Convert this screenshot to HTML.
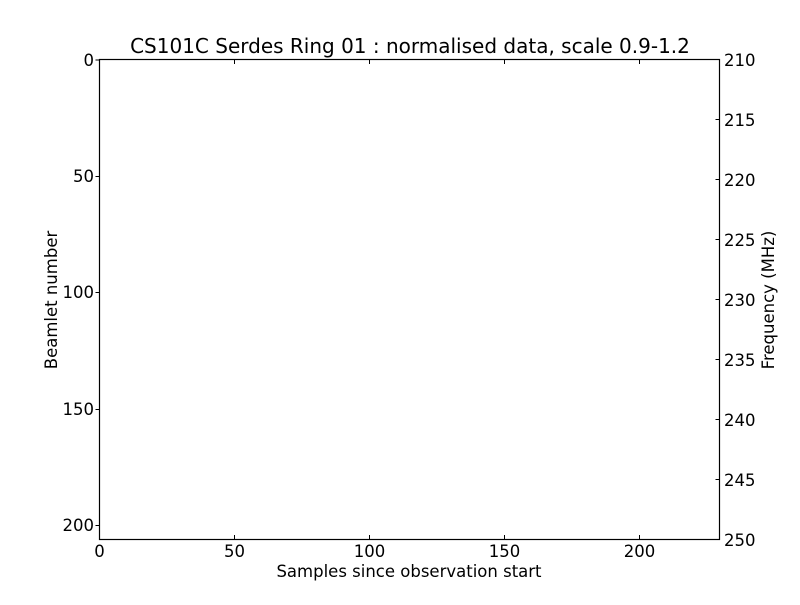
<!DOCTYPE html><html><head><style>body{margin:0;background:#fff}</style></head><body>
<svg width="800" height="600" xmlns="http://www.w3.org/2000/svg" font-family="DejaVu Sans, sans-serif" font-size="16.5" fill="#000">
<rect x="99.5" y="59.5" width="620" height="480" fill="none" stroke="#000" stroke-width="1.2"/>
<g stroke="#000" stroke-width="1">
<line x1="99.5" y1="60" x2="95.5" y2="60"/><line x1="99.5" y1="176.5" x2="95.5" y2="176.5"/><line x1="99.5" y1="292.5" x2="95.5" y2="292.5"/><line x1="99.5" y1="409.5" x2="95.5" y2="409.5"/><line x1="99.5" y1="525.5" x2="95.5" y2="525.5"/>
<line x1="234.5" y1="539" x2="234.5" y2="535"/><line x1="369.5" y1="539" x2="369.5" y2="535"/><line x1="504.5" y1="539" x2="504.5" y2="535"/><line x1="639.5" y1="539" x2="639.5" y2="535"/>
<line x1="234.5" y1="60" x2="234.5" y2="64"/><line x1="369.5" y1="60" x2="369.5" y2="64"/><line x1="504.5" y1="60" x2="504.5" y2="64"/><line x1="639.5" y1="60" x2="639.5" y2="64"/>
<line x1="719.5" y1="119.5" x2="715.5" y2="119.5"/><line x1="719.5" y1="179.5" x2="715.5" y2="179.5"/><line x1="719.5" y1="239.5" x2="715.5" y2="239.5"/><line x1="719.5" y1="299.5" x2="715.5" y2="299.5"/><line x1="719.5" y1="359.5" x2="715.5" y2="359.5"/><line x1="719.5" y1="419.5" x2="715.5" y2="419.5"/><line x1="719.5" y1="479.5" x2="715.5" y2="479.5"/>
</g>
<g text-anchor="end">
<text x="94" y="66">0</text><text x="94" y="182">50</text><text x="94" y="298">100</text><text x="94" y="415">150</text><text x="94" y="531">200</text>
</g>
<g text-anchor="middle">
<text x="99.5" y="557">0</text><text x="234.5" y="557">50</text><text x="369.5" y="557">100</text><text x="504.5" y="557">150</text><text x="639.5" y="557">200</text>
<text x="409" y="577">Samples since observation start</text>
<text x="410" y="53" font-size="20">CS101C Serdes Ring 01 : normalised data, scale 0.9-1.2</text>
</g>
<g>
<text x="724" y="66">210</text><text x="724" y="126">215</text><text x="724" y="186">220</text><text x="724" y="246">225</text><text x="724" y="306">230</text><text x="724" y="366">235</text><text x="724" y="426">240</text><text x="724" y="486">245</text><text x="724" y="546">250</text>
</g>
<text transform="translate(57,300) rotate(-90)" text-anchor="middle">Beamlet number</text>
<text transform="translate(774,300) rotate(-90)" text-anchor="middle">Frequency (MHz)</text>
</svg>
</body></html>
